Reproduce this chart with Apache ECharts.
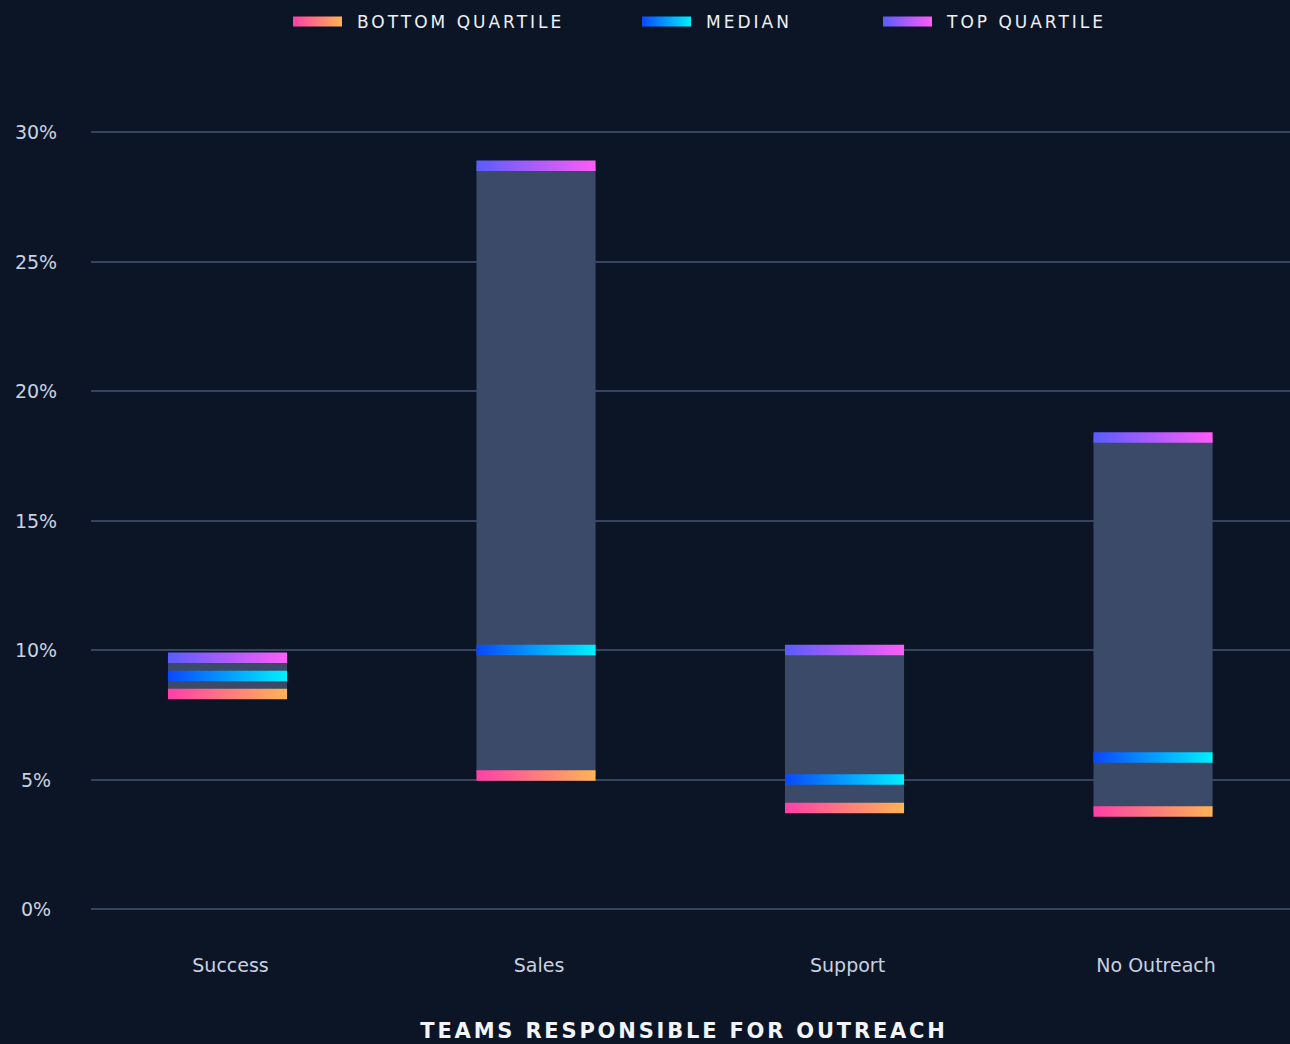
<!DOCTYPE html>
<html>
<head>
<meta charset="utf-8">
<script src="https://cdn.jsdelivr.net/npm/echarts@6/dist/echarts.min.js"></script>
<style>
html,body{margin:0;padding:0;background:#0C1526;}
#chart{width:1290px;height:1044px;}
</style>
</head>
<body>
<div id="chart"></div>
<script>
var categories = ['Success', 'Sales', 'Support', 'No Outreach'];
var bottomQuartile = [8.3, 5.15, 3.9, 3.76];
var median = [9.0, 10.0, 5.0, 5.85];
var topQuartile = [9.7, 28.7, 10.0, 18.2];
var seriesNames = ['BOTTOM QUARTILE', 'MEDIAN', 'TOP QUARTILE'];
var yTicks = [0, 5, 10, 15, 20, 25, 30];
var xTitle = 'TEAMS RESPONSIBLE FOR OUTREACH';

var G = echarts.graphic.LinearGradient;
var gradBottom = function () { return new G(0, 0, 1, 0, [{offset: 0, color: '#FF3FA8'}, {offset: 1, color: '#FFB454'}]); };
var gradMedian = function () { return new G(0, 0, 1, 0, [{offset: 0, color: '#0A48FF'}, {offset: 1, color: '#00F0FF'}]); };
var gradTop = function () { return new G(0, 0, 1, 0, [{offset: 0, color: '#5A5CFF'}, {offset: 1, color: '#FF5CF8'}]); };
var grads = [gradBottom, gradMedian, gradTop];
var valueSets = [bottomQuartile, median, topQuartile];

var FONT = 'DejaVu Sans';
var BAR_RATIO = 0.386;
var MARK_H = 10.5;
var LABEL_COLOR = '#C9D2E0';

var chart = echarts.init(document.getElementById('chart'), null, {renderer: 'svg'});

function boxRender(params, api) {
  var i = api.value(0);
  var p1 = api.coord([i, api.value(1)]);
  var p2 = api.coord([i, api.value(2)]);
  var w = api.size([1, 0])[0] * BAR_RATIO;
  return {
    type: 'rect',
    shape: {x: p1[0] - w / 2, y: p2[1], width: w, height: p1[1] - p2[1]},
    style: {fill: '#3A4A68'}
  };
}

function markRender(gradFn) {
  return function (params, api) {
    var i = api.value(0);
    var p = api.coord([i, api.value(1)]);
    var w = api.size([1, 0])[0] * BAR_RATIO;
    return {
      type: 'rect',
      shape: {x: p[0] - w / 2, y: p[1] - MARK_H / 2, width: w, height: MARK_H},
      style: {fill: gradFn()}
    };
  };
}

function labelRender(params, api) {
  var i = api.value(0);
  var p = api.coord([i, 0]);
  return {
    type: 'text',
    x: p[0] + 3,
    y: p[1] + 56,
    style: {
      text: categories[i], align: 'center', verticalAlign: 'middle',
      fill: LABEL_COLOR, fontFamily: FONT, fontSize: 19
    }
  };
}

var series = [{
  type: 'custom',
  name: 'box',
  renderItem: boxRender,
  data: categories.map(function (c, i) { return [i, bottomQuartile[i], topQuartile[i]]; }),
  silent: true
}];
seriesNames.forEach(function (n, k) {
  series.push({
    type: 'custom',
    name: n,
    itemStyle: {color: grads[k]()},
    renderItem: markRender(grads[k]),
    data: categories.map(function (c, i) { return [i, valueSets[k][i]]; })
  });
});
series.push({
  type: 'custom',
  name: 'labels',
  renderItem: labelRender,
  clip: false,
  silent: true,
  data: categories.map(function (c, i) { return [i, 0]; })
});

var legendLefts = [288, 637, 878];
var legends = seriesNames.map(function (n, k) {
  return {
    data: [{name: n, icon: 'rect', itemStyle: {color: grads[k]()}}],
    left: legendLefts[k],
    top: 8,
    itemWidth: 49,
    itemHeight: 10,
    selectedMode: false,
    textStyle: {color: '#EEF1F6', fontFamily: FONT, fontSize: 17, padding: [0, 0, 0, 10]}
  };
});

var option = {
  backgroundColor: '#0C1526',
  animation: false,
  title: {
    text: xTitle,
    left: 679,
    top: 1015,
    textAlign: 'center',
    textStyle: {color: '#F2F4F8', fontFamily: FONT, fontSize: 21, fontWeight: 'bold'}
  },
  legend: legends,
  grid: {left: 91, right: 0, top: 132, bottom: 135},
  xAxis: {type: 'value', show: false, min: -0.4425, max: 3.444, splitLine: {show: false}},
  yAxis: {
    type: 'value', min: 0, max: 30, interval: 5,
    axisLine: {show: false}, axisTick: {show: false},
    splitLine: {lineStyle: {color: '#36445F', width: 2}},
    axisLabel: {
      color: LABEL_COLOR, fontFamily: FONT, fontSize: 19, align: 'center', margin: 55,
      formatter: function (v) { return v + '%'; }
    }
  },
  series: series
};
chart.setOption(option);

function applySpacing() {
  var texts = document.querySelectorAll('#chart text');
  texts.forEach(function (t) {
    var s = t.textContent;
    if (s === xTitle) t.setAttribute('letter-spacing', '2.8');
    else if (seriesNames.indexOf(s) >= 0) t.setAttribute('letter-spacing', '3');
  });
}
chart.on('finished', applySpacing);
setTimeout(applySpacing, 50);
</script>
</body>
</html>
